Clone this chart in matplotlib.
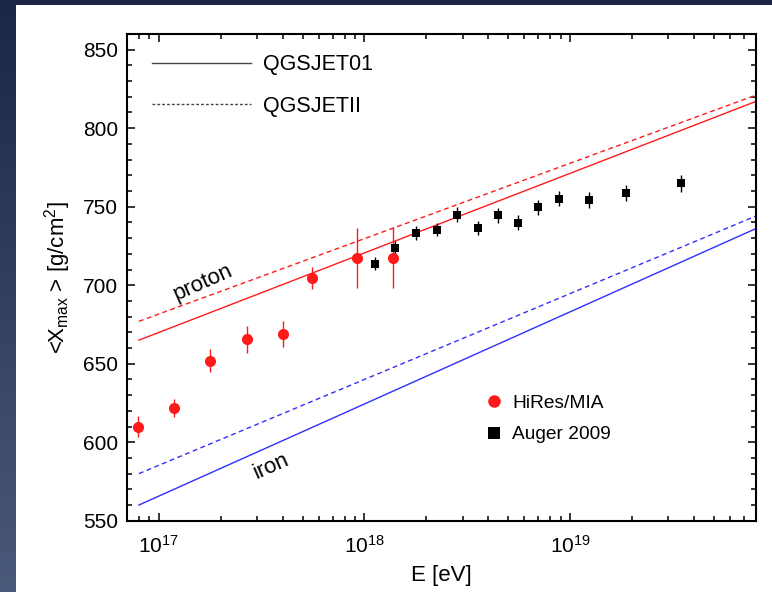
import numpy as np
import matplotlib
matplotlib.use("Agg")
import matplotlib.pyplot as plt
from matplotlib.lines import Line2D
from matplotlib.patches import Rectangle
from matplotlib.ticker import MultipleLocator, LogLocator, NullFormatter

plt.rcParams['font.family'] = ['Liberation Sans', 'DejaVu Sans']
plt.rcParams['mathtext.fontset'] = 'custom'
plt.rcParams['mathtext.rm'] = 'Liberation Sans'
plt.rcParams['mathtext.it'] = 'Liberation Sans:italic'
plt.rcParams['mathtext.bf'] = 'Liberation Sans:bold'

# Model predictions (straight lines in log E): end points
model_E = [8e16, 8e19]
proton_qgsjet01 = [665, 817]
proton_qgsjetii = [677, 821]
iron_qgsjet01 = [560, 736]
iron_qgsjetii = [580, 744]

# HiRes/MIA measurements
hires_E = [7.9e16, 1.19e17, 1.78e17, 2.68e17, 4.0e17, 5.56e17, 9.25e17, 1.37e18]
hires_X = [610, 622, 652, 665.5, 669, 704.5, 717.5, 717.5]
hires_err = [6.5, 5.7, 7.5, 8.7, 8.5, 7.0, 19.0, 19.5]

# Auger 2009 measurements
auger_E = [1.12e18, 1.41e18, 1.78e18, 2.25e18, 2.81e18, 3.57e18, 4.47e18,
           5.58e18, 7.01e18, 8.87e18, 1.23e19, 1.88e19, 3.47e19]
auger_X = [713.7, 724, 733.5, 735.4, 744.8, 736.5, 744.6,
           739.9, 749.5, 755.2, 754.3, 758.6, 764.8]
auger_err = [4.0, 4.3, 4.5, 4.0, 4.8, 4.3, 4.8, 4.8, 4.8, 4.8, 5.0, 5.0, 5.6]

RED = '#ff1a1a'
BLUE = '#2f2fff'

fig = plt.figure(figsize=(7.72, 5.92), dpi=100)

# dark slide background with a white panel
bg = fig.add_axes([0, 0, 1, 1])
bg.axis('off')
t = np.linspace(0, 1, 256)[:, None, None]
c_top = np.array([0.11, 0.15, 0.28])
c_bot = np.array([0.29, 0.35, 0.48])
grad = c_top + (c_bot - c_top) * t
bg.imshow(grad, aspect='auto', extent=[0, 1, 0, 1], zorder=0)
bg.add_patch(Rectangle((16 / 772, 0), 1 - 16 / 772, 1 - 5 / 592,
                       transform=bg.transAxes, facecolor='white',
                       edgecolor='none', zorder=1))
bg.set_xlim(0, 1)
bg.set_ylim(0, 1)

ax = fig.add_axes([0.1645, 0.1204, 0.8144, 0.8222])
ax.set_facecolor('white')

# model lines
ax.plot(model_E, proton_qgsjet01, color=RED, lw=1.0)
ax.plot(model_E, proton_qgsjetii, color=RED, lw=1.0, ls=(0, (3.5, 2.5)))
ax.plot(model_E, iron_qgsjet01, color=BLUE, lw=1.0)
ax.plot(model_E, iron_qgsjetii, color=BLUE, lw=1.0, ls=(0, (3.5, 2.5)))

# data points
ax.errorbar(hires_E, hires_X, yerr=hires_err, fmt='o', color=RED, ms=8,
            mew=0, elinewidth=1.0, capsize=0, zorder=5)
ax.errorbar(auger_E, auger_X, yerr=auger_err, fmt='s', color='black', ms=6.2,
            mew=0, elinewidth=1.0, capsize=0, zorder=5)

ax.set_xscale('log')
ax.set_xlim(7e16, 8e19)
ax.set_ylim(550, 860)

ax.yaxis.set_major_locator(MultipleLocator(50))
ax.yaxis.set_minor_locator(MultipleLocator(10))
ax.xaxis.set_major_locator(LogLocator(base=10, numticks=10))
ax.xaxis.set_minor_locator(LogLocator(base=10, subs=np.arange(2, 10), numticks=20))
ax.xaxis.set_minor_formatter(NullFormatter())

ax.tick_params(which='both', direction='in', top=True, right=True,
               width=1.1, labelsize=15, colors='black')
ax.tick_params(which='major', length=6)
ax.tick_params(which='minor', length=3.5)
ax.tick_params(axis='y', pad=6.5)
ax.tick_params(axis='x', pad=10)
for s in ax.spines.values():
    s.set_linewidth(1.5)

ax.set_xlabel('E [eV]', fontsize=16, labelpad=6)
ax.set_ylabel(r'<X$_{\rm max}$ > [g/cm$^2$]', fontsize=16, labelpad=7)

# composition labels
ax.text(1.64e17, 701.5, 'proton', fontsize=16, rotation=24,
        rotation_mode='anchor', ha='center', va='center')
ax.text(3.53e17, 584.5, 'iron', fontsize=16, rotation=24,
        rotation_mode='anchor', ha='center', va='center')

# legends
model_handles = [Line2D([], [], color='#444444', lw=1.0),
                 Line2D([], [], color='#444444', lw=1.0, ls=(0, (2, 1.5)))]
leg1 = ax.legend(model_handles, ['QGSJET01', 'QGSJETII'], loc='upper left',
                 bbox_to_anchor=(0.0393, 0.958), frameon=False, fontsize=15.5,
                 handlelength=4.6, handletextpad=0.56, labelspacing=0.95,
                 borderpad=0, borderaxespad=0)
ax.add_artist(leg1)

data_handles = [Line2D([], [], marker='o', color=RED, ms=9, mew=0, ls='none'),
                Line2D([], [], marker='s', color='black', ms=8.5, mew=0, ls='none')]
ax.legend(data_handles, ['HiRes/MIA', 'Auger 2009'], loc='upper left',
          bbox_to_anchor=(0.5685, 0.26), frameon=False, fontsize=13.8,
          handlelength=1.0, handletextpad=0.45, labelspacing=0.75,
          borderpad=0, borderaxespad=0)

fig.savefig('out.png', dpi=100)
